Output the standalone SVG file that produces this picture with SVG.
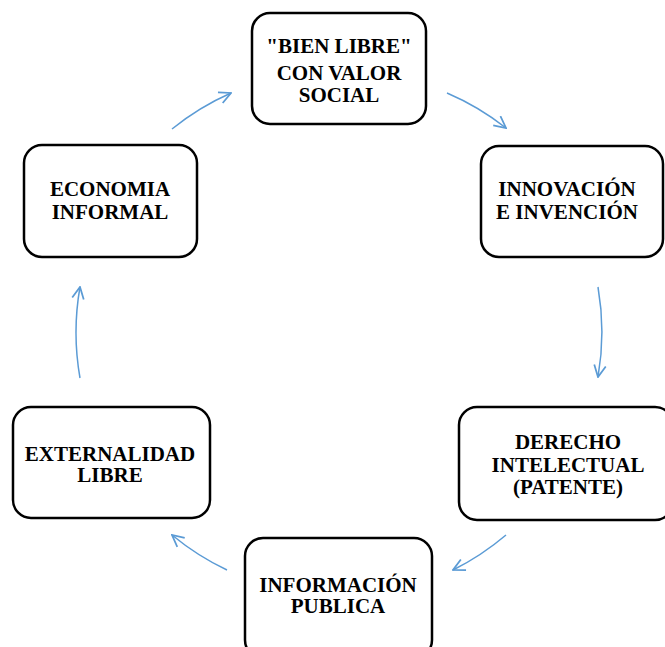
<svg xmlns="http://www.w3.org/2000/svg" width="665" height="647" viewBox="0 0 665 647">
  <style>
    .box { fill: #ffffff; stroke: #000000; stroke-width: 2.5; }
    .lbl { font-family: "Liberation Serif", "Times New Roman", serif; font-weight: bold; font-size: 21px; fill: #000000; text-anchor: middle; }
    .arc { fill: none; stroke: #5B9BD5; stroke-width: 1.5; marker-end: url(#open); }
  </style>
  <defs>
    <marker id="open" viewBox="0 0 12 12" refX="11" refY="6" markerWidth="14" markerHeight="14" markerUnits="userSpaceOnUse" orient="auto">
      <path d="M1,1 L11,6 L1,11" fill="none" stroke="#5B9BD5" stroke-width="1.5"/>
    </marker>
  </defs>
  <rect width="665" height="647" fill="#ffffff"/>

  <!-- cycle connectors, arcs around a common centre -->
  <g id="connectors">
    <path class="arc" d="M172,129 A262,262 0 0 1 231,93"/>
    <path class="arc" d="M447,93 A262,262 0 0 1 506,128"/>
    <path class="arc" d="M598,287 A262,262 0 0 1 598,377"/>
    <path class="arc" d="M506,535 A264,264 0 0 1 453,570"/>
    <path class="arc" d="M227,570 A264,264 0 0 1 172,535"/>
    <path class="arc" d="M80,378 A262,262 0 0 1 80,287"/>
  </g>

  <g id="bien-libre">
    <rect class="box" x="252" y="13" width="174" height="111" rx="18"/>
    <text class="lbl" x="339" y="53">"BIEN LIBRE"</text>
    <text class="lbl" x="339" y="80">CON VALOR</text>
    <text class="lbl" x="339" y="102">SOCIAL</text>
  </g>

  <g id="innovacion">
    <rect class="box" x="481" y="146" width="182" height="111" rx="18"/>
    <text class="lbl" x="567" y="196">INNOVACIÓN</text>
    <text class="lbl" x="567" y="219">E INVENCIÓN</text>
  </g>

  <g id="derecho">
    <rect class="box" x="459" y="407" width="214" height="113" rx="18"/>
    <text class="lbl" x="568" y="449">DERECHO</text>
    <text class="lbl" x="568" y="472">INTELECTUAL</text>
    <text class="lbl" x="568" y="494">(PATENTE)</text>
  </g>

  <g id="informacion">
    <rect class="box" x="245" y="538" width="187" height="120" rx="18"/>
    <text class="lbl" x="338" y="592">INFORMACIÓN</text>
    <text class="lbl" x="338" y="613">PUBLICA</text>
  </g>

  <g id="externalidad">
    <rect class="box" x="13" y="407" width="197" height="111" rx="18"/>
    <text class="lbl" x="110" y="461">EXTERNALIDAD</text>
    <text class="lbl" x="110" y="482">LIBRE</text>
  </g>

  <g id="economia">
    <rect class="box" x="24" y="145" width="173" height="112" rx="18"/>
    <text class="lbl" x="110" y="196">ECONOMIA</text>
    <text class="lbl" x="110" y="219">INFORMAL</text>
  </g>
</svg>
